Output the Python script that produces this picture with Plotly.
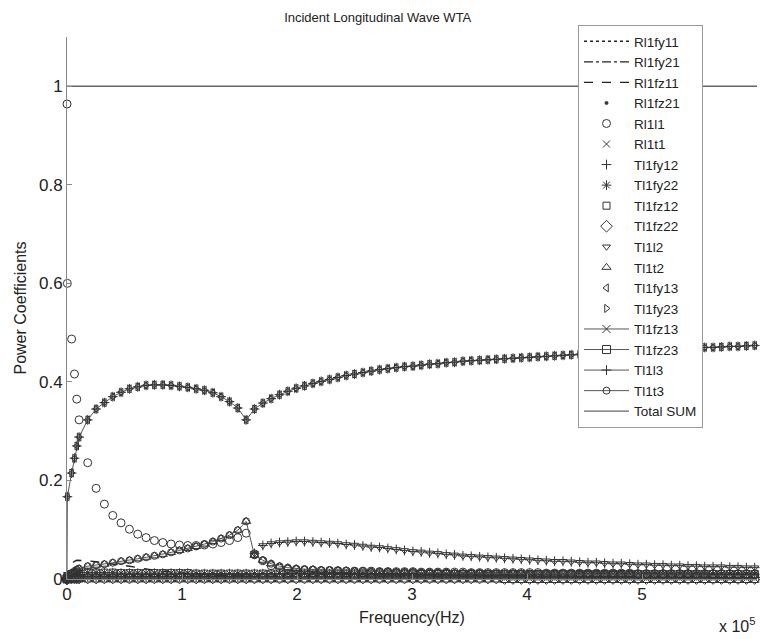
import plotly.graph_objects as go

# Frequency samples (units of 1e5 Hz)
freq = [0.0, 0.003, 0.04, 0.065, 0.085, 0.105,
        0.180, 0.253, 0.325, 0.398, 0.470, 0.543, 0.615, 0.688, 0.760, 0.833,
        0.905, 0.978, 1.050, 1.123, 1.195, 1.268, 1.340, 1.413, 1.485, 1.558,
        1.630, 1.703, 1.775, 1.848, 1.920, 1.993, 2.065, 2.138, 2.210, 2.283,
        2.355, 2.428, 2.500, 2.573, 2.645, 2.718, 2.790, 2.863, 2.935, 3.008,
        3.080, 3.153, 3.225, 3.298, 3.370, 3.443, 3.515, 3.588, 3.660, 3.733,
        3.805, 3.878, 3.950, 4.023, 4.095, 4.168, 4.240, 4.313, 4.385, 4.458,
        4.530, 4.603, 4.675, 4.748, 4.820, 4.893, 4.965, 5.038, 5.110, 5.183,
        5.255, 5.328, 5.400, 5.473, 5.545, 5.618, 5.690, 5.763, 5.835, 5.908,
        5.980]

upper_curve = [0.0, 0.167, 0.215, 0.245, 0.270, 0.288,
               0.323, 0.345, 0.358, 0.370, 0.379, 0.386, 0.390, 0.393, 0.394, 0.394,
               0.393, 0.391, 0.389, 0.386, 0.383, 0.378, 0.370, 0.360, 0.347, 0.323,
               0.345, 0.357, 0.366, 0.374, 0.381, 0.387, 0.392, 0.397, 0.401, 0.405,
               0.409, 0.413, 0.416, 0.419, 0.422, 0.425, 0.427, 0.429, 0.431, 0.432,
               0.434, 0.436, 0.437, 0.439, 0.440, 0.442, 0.443, 0.444, 0.445, 0.446,
               0.447, 0.448, 0.449, 0.450, 0.451, 0.452, 0.453, 0.454, 0.455, 0.456,
               0.457, 0.458, 0.459, 0.460, 0.461, 0.462, 0.463, 0.464, 0.465, 0.466,
               0.466, 0.467, 0.468, 0.469, 0.470, 0.470, 0.471, 0.472, 0.472, 0.473,
               0.474]

ri1l1 = [0.964, 0.600, 0.487, 0.416, 0.365, 0.323,
         0.236, 0.184, 0.152, 0.129, 0.114, 0.101, 0.091, 0.084, 0.078, 0.074,
         0.071, 0.069, 0.068, 0.068, 0.069, 0.071, 0.074, 0.078, 0.084, 0.093,
         0.051, 0.037, 0.027, 0.022, 0.020, 0.019, 0.018, 0.018, 0.017, 0.017,
         0.017, 0.016, 0.016, 0.016, 0.016, 0.015, 0.015, 0.015, 0.015, 0.015,
         0.014, 0.014, 0.014, 0.014, 0.014, 0.014, 0.013, 0.013, 0.013, 0.013,
         0.013, 0.013, 0.013, 0.013, 0.013, 0.012, 0.012, 0.012, 0.012, 0.012,
         0.012, 0.012, 0.012, 0.012, 0.012, 0.012, 0.011, 0.011, 0.011, 0.011,
         0.011, 0.011, 0.011, 0.011, 0.011, 0.011, 0.011, 0.010, 0.010, 0.010,
         0.010]

rising_curve = [0.0, 0.006, 0.012, 0.016, 0.019, 0.021,
                0.026, 0.028, 0.030, 0.033, 0.036, 0.038, 0.041, 0.044, 0.047, 0.050,
                0.054, 0.058, 0.062, 0.066, 0.071, 0.076, 0.082, 0.089, 0.099, 0.117,
                0.048, 0.038, 0.031, 0.026, 0.023, 0.021, 0.020, 0.019, 0.018, 0.018,
                0.017, 0.017, 0.016, 0.016, 0.015, 0.015, 0.015, 0.014, 0.014, 0.014,
                0.013, 0.013, 0.013, 0.013, 0.012, 0.012, 0.012, 0.012, 0.011, 0.011,
                0.011, 0.011, 0.011, 0.010, 0.010, 0.010, 0.010, 0.010, 0.010, 0.009,
                0.009, 0.009, 0.009, 0.009, 0.009, 0.009, 0.008, 0.008, 0.008, 0.008,
                0.008, 0.008, 0.008, 0.008, 0.008, 0.007, 0.007, 0.007, 0.007, 0.007,
                0.007]

after_cut = [0.0, 0.002, 0.003, 0.004, 0.004, 0.005,
             0.005, 0.005, 0.005, 0.005, 0.005, 0.005, 0.005, 0.005, 0.005, 0.005,
             0.005, 0.005, 0.005, 0.005, 0.005, 0.005, 0.005, 0.005, 0.005, 0.005,
             0.052, 0.068, 0.072, 0.074, 0.075, 0.076, 0.076, 0.075, 0.074, 0.073,
             0.072, 0.070, 0.069, 0.067, 0.065, 0.064, 0.062, 0.060, 0.058, 0.056,
             0.055, 0.053, 0.052, 0.050, 0.049, 0.047, 0.046, 0.045, 0.044, 0.043,
             0.042, 0.041, 0.040, 0.039, 0.038, 0.037, 0.036, 0.036, 0.035, 0.034,
             0.033, 0.033, 0.032, 0.031, 0.031, 0.030, 0.029, 0.029, 0.028, 0.028,
             0.027, 0.027, 0.026, 0.026, 0.025, 0.025, 0.025, 0.024, 0.024, 0.023,
             0.023]

ri1fz11 = [0.0, 0.012, 0.030, 0.036, 0.038, 0.038,
           0.037, 0.035, 0.033, 0.031, 0.029, 0.026, 0.023, 0.020, 0.018, 0.016,
           0.014, 0.012, 0.011, 0.010, 0.009, 0.008, 0.007, 0.007, 0.006, 0.006,
           0.005, 0.005, 0.005, 0.005, 0.005, 0.004, 0.004, 0.004, 0.004, 0.004,
           0.004, 0.004, 0.004, 0.004, 0.004, 0.004, 0.004, 0.004, 0.004, 0.004,
           0.004, 0.004, 0.004, 0.004, 0.003, 0.003, 0.003, 0.003, 0.003, 0.003,
           0.003, 0.003, 0.003, 0.003, 0.003, 0.003, 0.003, 0.003, 0.003, 0.003,
           0.003, 0.003, 0.003, 0.003, 0.003, 0.003, 0.003, 0.003, 0.003, 0.003,
           0.003, 0.003, 0.003, 0.003, 0.003, 0.003, 0.003, 0.003, 0.003, 0.003,
           0.003]

band_hi = [0.0, 0.006, 0.010, 0.012, 0.013, 0.013,
           0.013, 0.013, 0.013, 0.013, 0.012, 0.012, 0.012, 0.012, 0.012, 0.012,
           0.012, 0.012, 0.012, 0.011, 0.011, 0.011, 0.011, 0.011, 0.011, 0.011,
           0.011, 0.011, 0.011, 0.011, 0.011, 0.011, 0.011, 0.011, 0.011, 0.011,
           0.011, 0.011, 0.011, 0.011, 0.011, 0.011, 0.011, 0.011, 0.011, 0.011,
           0.010, 0.010, 0.010, 0.010, 0.010, 0.010, 0.010, 0.010, 0.010, 0.010,
           0.010, 0.010, 0.010, 0.010, 0.010, 0.010, 0.010, 0.010, 0.010, 0.010,
           0.010, 0.010, 0.010, 0.010, 0.010, 0.010, 0.010, 0.010, 0.010, 0.010,
           0.010, 0.010, 0.010, 0.010, 0.010, 0.010, 0.010, 0.010, 0.010, 0.010,
           0.010]

band_lo = [0.0, 0.001, 0.002, 0.002, 0.002, 0.002,
           0.002, 0.002, 0.002, 0.002, 0.002, 0.002, 0.002, 0.002, 0.002, 0.002,
           0.002, 0.002, 0.002, 0.002, 0.002, 0.002, 0.002, 0.002, 0.002, 0.002,
           0.002, 0.002, 0.002, 0.002, 0.002, 0.002, 0.002, 0.002, 0.002, 0.002,
           0.002, 0.002, 0.002, 0.002, 0.002, 0.002, 0.002, 0.002, 0.002, 0.002,
           0.002, 0.002, 0.002, 0.002, 0.002, 0.002, 0.002, 0.002, 0.002, 0.002,
           0.001, 0.001, 0.001, 0.001, 0.001, 0.001, 0.001, 0.001, 0.001, 0.001,
           0.001, 0.001, 0.001, 0.001, 0.001, 0.001, 0.001, 0.001, 0.001, 0.001,
           0.001, 0.001, 0.001, 0.001, 0.001, 0.001, 0.001, 0.001, 0.001, 0.001,
           0.001]

total_sum = [1.0] * len(freq)

x_ticks = [0, 1, 2, 3, 4, 5, 6]
x_tick_text = ["0", "1", "2", "3", "4", "5", "6"]
y_ticks = [0, 0.2, 0.4, 0.6, 0.8, 1.0]
y_tick_text = ["0", "0.2", "0.4", "0.6", "0.8", "1"]

MK = "#333333"
LN = "#555555"
FONT = "Liberation Sans, Arial, sans-serif"

# (name, y, mode, dash, symbol, size)
series = [
    ("Rl1fy11", band_lo, "lines", "dot", None, 0),
    ("Rl1fy21", band_lo, "lines", "dashdot", None, 0),
    ("Rl1fz11", ri1fz11, "lines", "dash", None, 0),
    ("Rl1fz21", band_lo, "markers", None, "circle", 3),
    ("Rl1l1", ri1l1, "markers", None, "circle-open", 8),
    ("Rl1t1", band_hi, "markers", None, "x-thin-open", 7),
    ("Tl1fy12", after_cut, "markers", None, "cross-thin-open", 7),
    ("Tl1fy22", band_hi, "markers", None, "asterisk-open", 8),
    ("Tl1fz12", band_hi, "markers", None, "square-open", 7),
    ("Tl1fz22", band_lo, "markers", None, "diamond-open", 9),
    ("Tl1l2", after_cut, "markers", None, "triangle-down-open", 7),
    ("Tl1t2", rising_curve, "markers", None, "triangle-up-open", 8),
    ("Tl1fy13", upper_curve, "markers", None, "triangle-left-open", 7),
    ("Tl1fy23", upper_curve, "markers", None, "triangle-right-open", 7),
    ("Tl1fz13", band_lo, "lines+markers", "solid", "x-thin-open", 8),
    ("Tl1fz23", band_lo, "lines+markers", "solid", "square-open", 8),
    ("Tl1l3", upper_curve, "lines+markers", "solid", "cross-thin-open", 7),
    ("Tl1t3", rising_curve, "lines+markers", "solid", "circle-open", 7),
]

fig = go.Figure()
for name, y, mode, dash, sym, size in series:
    kw = dict(x=freq, y=y, mode=mode, name=name, cliponaxis=False)
    if "lines" in mode:
        if mode == "lines":
            kw["line"] = dict(color="#222222", width=1.4, dash=dash)
        else:
            kw["line"] = dict(color=LN, width=1, dash=dash)
    if "markers" in mode:
        kw["marker"] = dict(symbol=sym, size=size, color=MK,
                            line=dict(color=MK, width=1))
    fig.add_trace(go.Scatter(**kw))

fig.add_trace(go.Scatter(x=[freq[0], freq[-1] + 0.02], y=[total_sum[0], total_sum[-1]],
                         mode="lines", name="Total SUM",
                         line=dict(color="#666666", width=1.3)))

fig.update_layout(
    width=760, height=639,
    margin=dict(l=67, r=3, t=37, b=60, autoexpand=False),
    paper_bgcolor="white", plot_bgcolor="white",
    font=dict(family=FONT, color="#222222", size=16),
    title=dict(text="Incident Longitudinal Wave WTA", x=0.497, xanchor="center",
               y=0.972, yanchor="middle", font=dict(size=13, color="#222222")),
    showlegend=True,
    legend=dict(x=(578 - 67) / 690, y=(579 - 25) / 542,
                xanchor="left", yanchor="top", maxheight=600,
                bgcolor="white", bordercolor="#999999", borderwidth=1,
                font=dict(size=13.5, color="#222222"), itemwidth=45,
                tracegroupgap=0),
    xaxis=dict(range=[0, 6], tickvals=x_ticks, ticktext=x_tick_text,
               showgrid=False, zeroline=False, showline=True, linecolor="#888888",
               linewidth=1, ticks="inside", ticklen=5, tickcolor="#888888",
               tickfont=dict(size=17),
               title=dict(text="Frequency(Hz)", font=dict(size=16), standoff=8)),
    yaxis=dict(range=[0, 1.1], tickvals=y_ticks, ticktext=y_tick_text,
               showgrid=False, zeroline=False, showline=True, linecolor="#888888",
               linewidth=1, ticks="inside", ticklen=5, tickcolor="#888888",
               tickfont=dict(size=17),
               title=dict(text="Power Coefficients", font=dict(size=16), standoff=8)),
    annotations=[dict(text="x 10<sup>5</sup>", xref="paper", yref="paper",
                      x=1.0, y=-0.085, xanchor="right", yanchor="middle",
                      showarrow=False, font=dict(size=16))],
)

fig.write_html("out.html")
